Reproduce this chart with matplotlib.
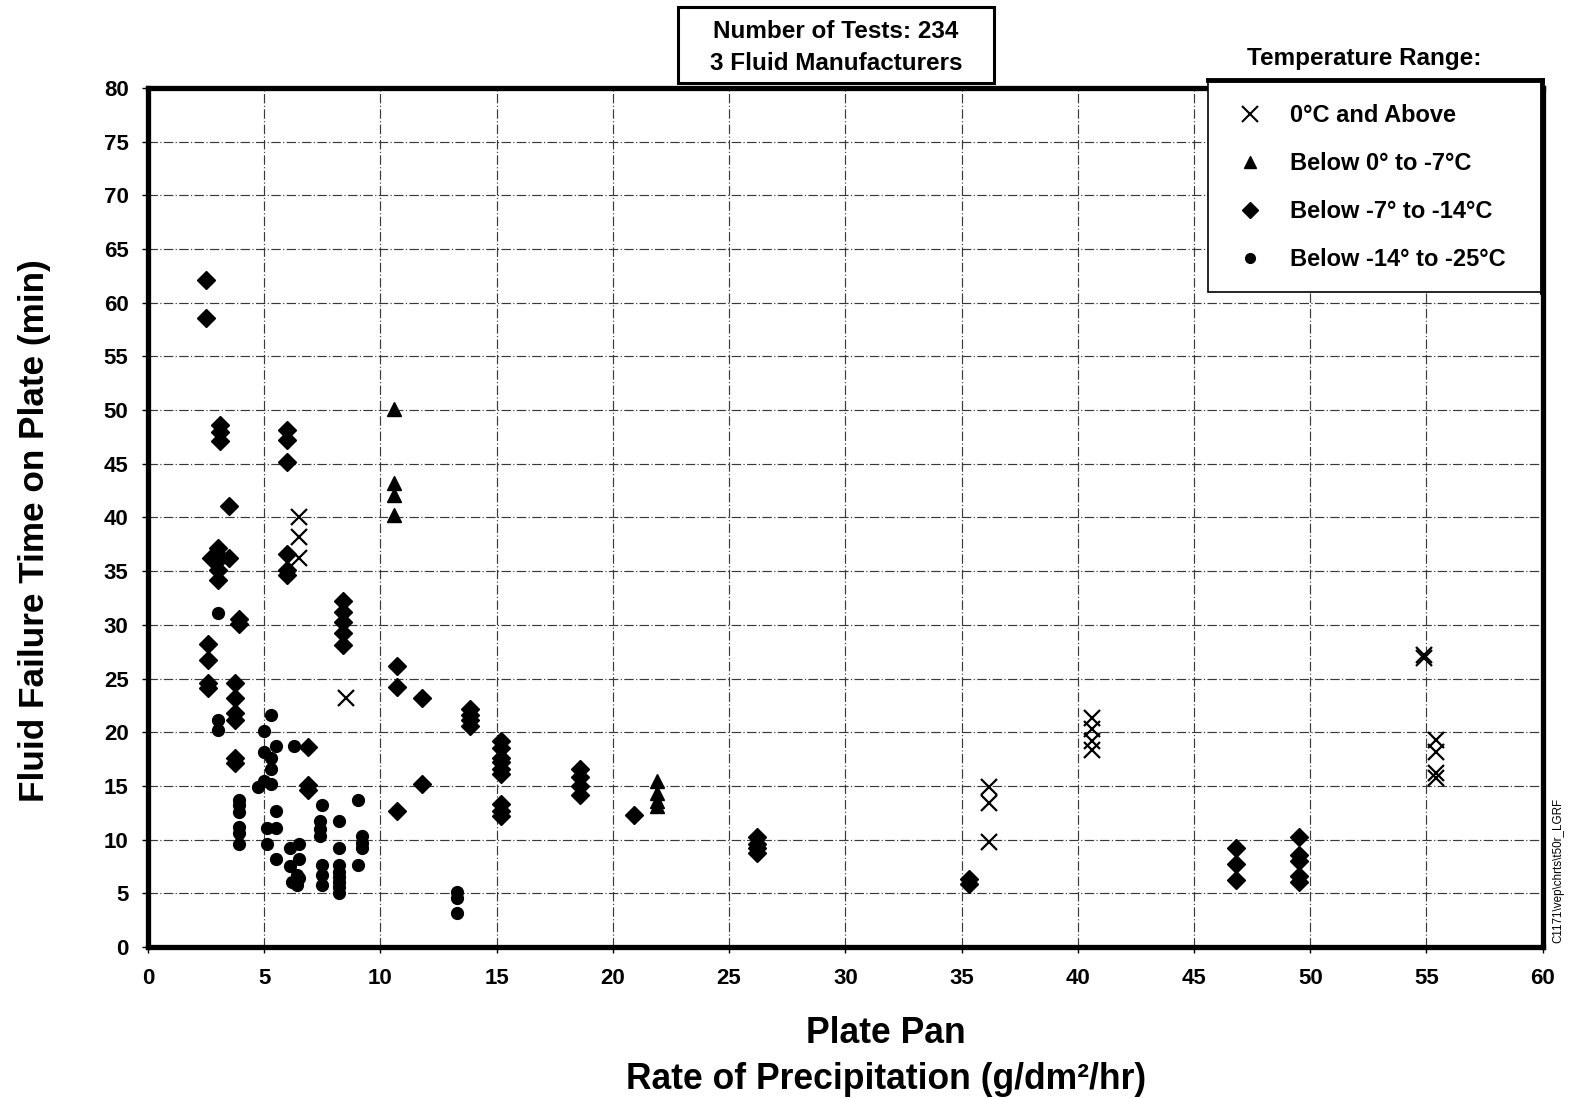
import matplotlib
matplotlib.use("Agg")
import matplotlib.pyplot as plt
from matplotlib.patches import Rectangle
from matplotlib.lines import Line2D

plt.rcParams['font.family'] = ['Liberation Sans', 'DejaVu Sans']

# Precipitation rate (g/dm²/hr) and failure time (min), by temperature range
above0_x = [6.5, 6.5, 6.5, 8.5, 36.2, 36.2, 36.2, 40.6, 40.6, 40.6, 40.6,
            54.9, 54.9, 55.4, 55.4, 55.4, 55.4]
above0_y = [40.0, 38.2, 36.2, 23.2, 14.9, 13.4, 9.8, 21.3, 20.3, 19.2, 18.3,
            27.2, 26.9, 19.3, 18.2, 16.2, 15.7]

to_m7_x = [10.6, 10.6, 10.6, 10.6, 21.9, 21.9, 21.9, 21.9]
to_m7_y = [50.1, 43.2, 42.1, 40.2, 15.5, 14.3, 13.6, 13.1]

to_m14_x = [2.5, 2.5,
            2.6, 2.6, 2.6, 2.6,
            2.7,
            3.0, 3.0, 3.0, 3.0, 3.0,
            3.1, 3.1, 3.1,
            3.5, 3.5,
            3.75, 3.75, 3.75, 3.75, 3.75, 3.75,
            3.9, 3.9,
            6.0, 6.0, 6.0, 6.0, 6.0, 6.0,
            6.9, 6.9, 6.9,
            8.4, 8.4, 8.4, 8.4, 8.4,
            10.7, 10.7, 10.7,
            11.8, 11.8,
            13.85, 13.85, 13.85, 13.85,
            15.2, 15.2, 15.2, 15.2, 15.2, 15.2, 15.2, 15.2, 15.2,
            18.6, 18.6, 18.6, 18.6,
            20.9,
            26.2, 26.2, 26.2, 26.2,
            35.3, 35.3,
            46.8, 46.8, 46.8,
            49.5, 49.5, 49.5, 49.5, 49.5]
to_m14_y = [62.1, 58.6,
            28.2, 26.7, 24.6, 24.1,
            36.2,
            37.2, 36.5, 36.0, 35.1, 34.2,
            48.6, 48.0, 47.1,
            41.1, 36.2,
            24.6, 23.2, 21.8, 21.1, 17.6, 17.1,
            30.5, 30.1,
            48.1, 47.2, 45.2, 36.6, 35.1, 34.6,
            18.6, 15.1, 14.6,
            32.2, 31.2, 30.3, 29.2, 28.1,
            26.2, 24.2, 12.7,
            23.2, 15.2,
            22.2, 21.6, 21.1, 20.6,
            19.2, 18.5, 17.6, 17.2, 16.6, 16.1, 13.3, 12.7, 12.2,
            16.6, 15.8, 15.0, 14.2,
            12.3,
            10.2, 9.6, 9.2, 8.8,
            6.3, 5.9,
            9.2, 7.7, 6.2,
            10.2, 8.6, 8.0, 6.6, 6.1]

to_m25_x = [3.0, 3.0, 3.0,
            3.9, 3.9, 3.9, 3.9, 3.9, 3.9,
            4.75,
            5.0, 5.0, 5.0,
            5.3, 5.3, 5.3, 5.3,
            5.5, 5.5, 5.5, 5.5,
            5.1, 5.1,
            6.3,
            6.5, 6.1, 6.5, 6.1, 6.4, 6.5, 6.2, 6.4,
            7.5, 7.5, 7.5, 7.5,
            7.4, 7.4, 7.4,
            8.2, 8.2, 8.2, 8.2, 8.2, 8.2, 8.2, 8.2,
            9.05, 9.05,
            9.2, 9.2, 9.2,
            13.3, 13.3, 13.3]
to_m25_y = [31.1, 21.1, 20.2,
            13.7, 13.2, 12.6, 11.2, 10.6, 9.6,
            14.9,
            15.5, 20.1, 18.2,
            21.6, 17.6, 16.6, 15.2,
            18.7, 12.7, 11.1, 8.2,
            11.1, 9.6,
            18.7,
            9.6, 9.2, 8.2, 7.5, 6.7, 6.4, 6.1, 5.8,
            13.2, 7.6, 6.7, 5.8,
            11.7, 11.0, 10.3,
            11.7, 9.2, 7.6, 7.0, 6.5, 6.1, 5.6, 5.0,
            13.7, 7.6,
            10.3, 9.7, 9.2,
            5.1, 4.6, 3.2]

series_labels = ["0°C and Above", "Below 0° to -7°C",
                 "Below -7° to -14°C", "Below -14° to -25°C"]

x_ticks = list(range(0, 61, 5))
y_ticks = list(range(0, 81, 5))

fig = plt.figure(figsize=(15.79, 10.98), dpi=100)
ax = fig.add_axes([0.0937, 0.1375, 0.8833, 0.7825])

ax.set_xlim(0, 60)
ax.set_ylim(0, 80)
ax.set_xticks(x_ticks)
ax.set_yticks(y_ticks)
ax.tick_params(axis='both', labelsize=16, length=4, width=1, direction='out',
               colors='black')
ax.tick_params(axis='x', pad=11)
ax.tick_params(axis='y', pad=10)
for lbl in ax.get_xticklabels() + ax.get_yticklabels():
    lbl.set_fontweight('bold')
ax.grid(True, color='#3a3a3a', linewidth=0.85, linestyle=(0, (8, 2, 1, 2)))
ax.set_axisbelow(True)
for sp in ax.spines.values():
    sp.set_linewidth(3.8)
    sp.set_color('black')

ax.plot(above0_x, above0_y, linestyle='none', marker='x', markersize=12,
        markeredgewidth=1.6, color='black', zorder=3)
ax.plot(to_m7_x, to_m7_y, linestyle='none', marker='^', markersize=9.5,
        color='black', zorder=3)
ax.plot(to_m14_x, to_m14_y, linestyle='none', marker='D', markersize=9.5,
        color='black', zorder=3)
ax.plot(to_m25_x, to_m25_y, linestyle='none', marker='o', markersize=8.5,
        color='black', zorder=3)

# Legend panel in the upper-right corner
fig.patches.append(Rectangle((0.765, 0.734), 0.2116, 0.193, transform=fig.transFigure,
                             facecolor='white', edgecolor='black', linewidth=1.2,
                             zorder=5))
fig.lines.append(Line2D([0.765, 0.9766], [0.927, 0.927], transform=fig.transFigure,
                        color='black', linewidth=3.5, zorder=6))
fig.lines.append(Line2D([0.9766, 0.9766], [0.734, 0.927], transform=fig.transFigure,
                        color='black', linewidth=3.5, zorder=6))

leg_handles = [
    Line2D([], [], linestyle='none', marker='x', markersize=11, markeredgewidth=1.5, color='black'),
    Line2D([], [], linestyle='none', marker='^', markersize=8, color='black'),
    Line2D([], [], linestyle='none', marker='D', markersize=8, color='black'),
    Line2D([], [], linestyle='none', marker='o', markersize=7, color='black'),
]
leg = fig.legend(leg_handles, series_labels, loc='upper left',
                 bbox_to_anchor=(0.772, 0.920), frameon=False,
                 prop={'size': 17, 'weight': 'bold'},
                 handlelength=1.2, handletextpad=1.1, labelspacing=1.06,
                 borderpad=0.2)
leg.set_zorder(7)

fig.text(0.8638, 0.947, "Temperature Range:", ha='center', va='center',
         fontsize=17.5, fontweight='bold')

# Test summary box above the plot
fig.patches.append(Rectangle((0.4294, 0.9244), 0.2001, 0.0692, transform=fig.transFigure,
                             facecolor='white', edgecolor='black', linewidth=2.2,
                             zorder=5))
fig.text(0.5294, 0.9709, "Number of Tests: 234", ha='center', va='center',
         fontsize=17.5, fontweight='bold', zorder=6)
fig.text(0.5294, 0.9418, "3 Fluid Manufacturers", ha='center', va='center',
         fontsize=17.5, fontweight='bold', zorder=6)

fig.text(0.022, 0.517, "Fluid Failure Time on Plate (min)", rotation=90,
         ha='center', va='center', fontsize=25.3, fontweight='bold')
fig.text(0.561, 0.059, "Plate Pan", ha='center', va='center', fontsize=25.6,
         fontweight='bold')
fig.text(0.561, 0.017, "Rate of Precipitation (g/dm²/hr)", ha='center', va='center',
         fontsize=25.6, fontweight='bold')

fig.text(0.987, 0.207, "C1171\\vep\\chrts\\t50r_LGRF", rotation=90, ha='center',
         va='center', fontsize=8.4)

fig.savefig("out.png", dpi=100)
